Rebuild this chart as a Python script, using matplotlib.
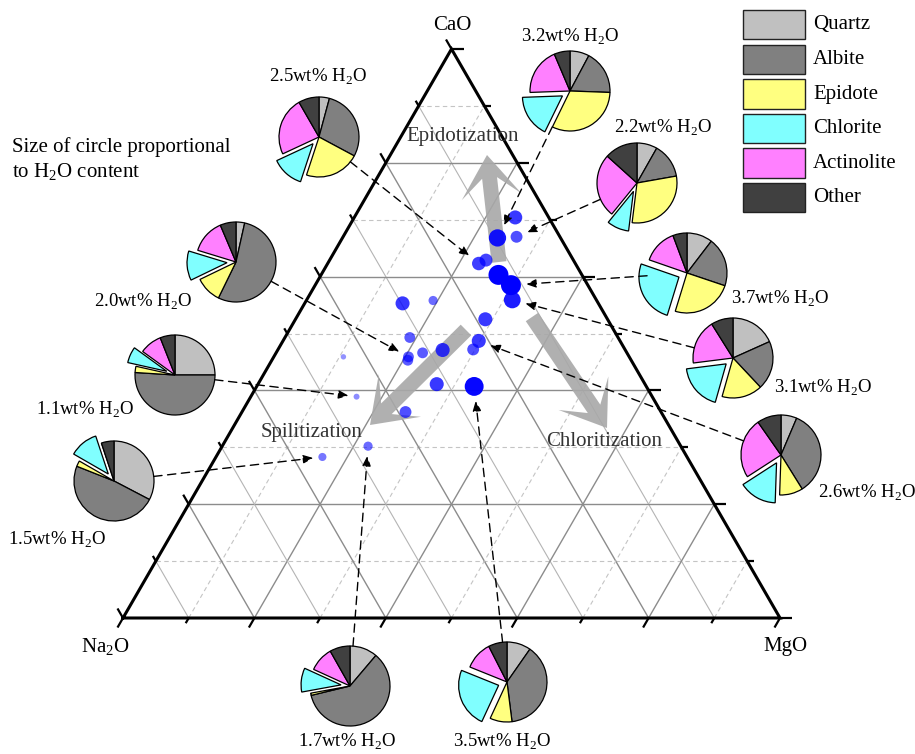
import numpy as np
import matplotlib.pyplot as plt
from matplotlib.patches import Polygon, Rectangle

plt.rcParams['font.family'] = ['Liberation Serif', 'DejaVu Serif']
plt.rcParams['mathtext.fontset'] = 'custom'
plt.rcParams['mathtext.rm'] = 'Liberation Serif'


# sample compositions (wt%) and water content
# -------------------------------------------------------------------------------------
cao  = [70.4, 67.0, 66.8, 62.9, 62.3, 60.3, 58.5, 55.9, 55.3, 55.8, 52.5, 49.3, 48.7,
        47.2, 46.6, 47.1, 45.9, 45.3, 45.9, 41.1, 40.7, 36.2, 38.9, 30.2, 28.3]
na2o = [5.2, 6.6, 9.6, 13.3, 14.6, 12.7, 11.7, 12.8, 29.8, 25.0, 18.5, 31.7, 21.5,
        23.1, 31.1, 27.8, 33.6, 34.0, 43.5, 31.7, 26.2, 39.0, 45.0, 47.5, 55.4]
mgo  = [24.5, 26.4, 23.6, 23.8, 23.0, 27.0, 29.8, 31.3, 14.9, 19.3, 28.9, 19.0, 29.8,
        29.7, 22.3, 25.1, 20.5, 20.7, 10.6, 27.2, 33.1, 24.9, 16.1, 22.2, 16.2]
h2o  = [2.6, 2.2, 3.2, 2.4, 2.5, 3.7, 3.7, 3.1, 2.6, 1.7, 2.6, 2.0, 2.6,
        2.2, 2.0, 2.6, 2.0, 2.0, 1.0, 2.6, 3.5, 2.2, 1.1, 1.7, 1.5]

# mineral proportions (%) of the pie samples
# -------------------------------------------------------------------------------------
minerals = ["Quartz", "Albite", "Epidote", "Chlorite", "Actinolite", "Other"]
pie_h2o    = [2.5, 3.2, 2.2, 3.7, 3.1, 2.6, 2.0, 1.1, 1.5, 1.7, 3.5]
quartz     = [4.2, 7.8, 8.2, 10.4, 18.3, 6.4, 3.5, 25.0, 32.7, 11.2, 9.7]
albite     = [28.6, 17.8, 14.0, 19.8, 19.7, 34.7, 53.8, 51.0, 48.4, 60.1, 38.3]
epidote    = [22.2, 31.7, 29.7, 24.6, 16.4, 9.4, 10.6, 2.5, 2.3, 0.9, 8.9]
chlorite   = [13.0, 17.2, 8.9, 25.6, 18.6, 15.3, 11.9, 6.5, 11.6, 9.7, 24.2]
actinolite = [23.6, 19.2, 25.8, 14.0, 18.1, 24.4, 13.9, 9.0, 0.0, 10.0, 11.4]
other      = [8.3, 6.4, 13.3, 5.7, 8.9, 9.7, 6.4, 6.0, 5.1, 8.2, 7.5]
pie_sample = [4, 2, 1, 6, 7, 12, 16, 22, 24, 23, 20]   # which point each pie belongs to


# layout (pixel positions in the 915x754 figure)
# -------------------------------------------------------------------------------------
SIDE, X0, Y0 = 657, 123, 618        # triangle side and Na2O corner in pixels
H = np.sqrt(3) / 2
colors = ['#c0c0c0', '#808080', '#ffff80', '#80ffff', '#ff80ff', '#404040']

pie_xy = [(319, 137), (570, 91), (637, 183), (687, 273), (733, 358), (781, 455),
          (236, 262), (175, 375), (114, 481), (350, 686), (507, 682)]
label_xy = [(318, 77), (570, 37), (663, 128), (780, 299), (823, 388), (867, 493),
            (143, 302), (85, 410), (57, 540), (347, 742), (502, 742)]
PIE_R = 40


def px(x, y):
    return ((x - X0) / SIDE, (Y0 - y) / SIDE)


def tern(c, m):
    return m / 100 + c / 200, c / 100 * H


fig = plt.figure(figsize=(9.15, 7.54), dpi=100)
ax = fig.add_axes([0, 0, 1, 1])

# grid
major = dict(color='#8c8c8c', lw=1.0, ls='-')
light = dict(color='#b4b4b4', lw=0.8, ls='-')
dash = dict(color='#c4c4c4', lw=0.8, ls=(0, (4, 3)))
for i in range(1, 10):
    f = i / 10
    even = i % 2 == 0
    ax.plot([f / 2, 1 - f / 2], [f * H, f * H], **(major if even else dash), zorder=1)
    ax.plot([f, f + (1 - f) / 2], [0, (1 - f) * H], **(major if even else dash), zorder=1)
    ax.plot([1 - f, (1 - f) / 2], [0, (1 - f) * H], **(major if even else light), zorder=1)

# triangle and ticks
ax.plot([0, 1, 0.5, 0], [0, 0, H, 0], color='k', lw=2.2, zorder=3,
        solid_joinstyle='miter')
for i in range(11):
    f = i / 10
    L = (11 if i % 2 == 0 else 6) / SIDE
    kw = dict(color='k', lw=1.6, zorder=3, solid_capstyle='butt')
    ax.plot([f / 2, f / 2 - 0.5 * L], [f * H, f * H + H * L], **kw)
    ax.plot([f, f - 0.5 * L], [0, -H * L], **kw)
    ax.plot([1 - f / 2, 1 - f / 2 + L * 1.1], [f * H, f * H], **kw)

ax.text(*px(452, 26), "CaO", ha='center', va='center', fontsize=15)
ax.text(*px(105, 647), "Na$_2$O", ha='center', va='center', fontsize=15)
ax.text(*px(785, 646), "MgO", ha='center', va='center', fontsize=15)


# big process arrows
def big_arrow(p0, p1, shaft=15, head_w=60, head_l=42):
    a = np.array(px(*p0))
    b = np.array(px(*p1))
    u = (b - a) / np.linalg.norm(b - a)
    v = np.array([-u[1], u[0]])
    s, hw, hl = shaft / SIDE / 2, head_w / SIDE / 2, head_l / SIDE
    pts = [a + v * s, b - u * hl * 0.55 + v * s, b - u * hl + v * hw,
           b - u * hl * 0.45 + v * hw * 0.45, b,
           b - u * hl * 0.45 - v * hw * 0.45, b - u * hl - v * hw,
           b - u * hl * 0.55 - v * s, a - v * s]
    ax.add_patch(Polygon(pts, closed=True, facecolor='#a8a8a8', edgecolor='none',
                         alpha=0.9, zorder=4))


big_arrow((499, 262), (487, 155))
big_arrow((466, 330), (370, 425))
big_arrow((532, 317), (607, 428))
ax.text(*px(463, 137), "Epidotization", ha='center', va='center', fontsize=15, color='#333333', zorder=6)
ax.text(*px(312, 433), "Spilitization", ha='center', va='center', fontsize=15, color='#333333', zorder=6)
ax.text(*px(604, 442), "Chloritization", ha='center', va='center', fontsize=15, color='#333333', zorder=6)

# sample points
pts = np.array([tern(c, m) for c, m in zip(cao, mgo)])
h = np.array(h2o)
r_px = 2.7 * h
alpha = np.clip(0.45 + (h - 1.1) * 0.22, 0.35, 1.0)
rgba = np.zeros((len(h), 4))
rgba[:, 2] = 1.0
rgba[:, 3] = alpha
ax.scatter(pts[:, 0], pts[:, 1], s=(2 * r_px * 0.72) ** 2, c=rgba, edgecolors='none', zorder=7)

# pies, labels and dashed arrows
fracs = np.array([quartz, albite, epidote, chlorite, actinolite, other]).T
for k in range(len(pie_h2o)):
    cx, cy = px(*pie_xy[k])
    ax.pie(fracs[k], colors=colors, startangle=90, counterclock=False,
           explode=[0, 0, 0, 9 / SIDE, 0, 0], center=(cx, cy), radius=PIE_R / SIDE,
           wedgeprops=dict(edgecolor='black', linewidth=0.9), frame=True)
    ax.text(*px(*label_xy[k]), f"{pie_h2o[k]:.1f}wt% H$_2$O", ha='center', va='center',
            fontsize=13.5)

    tgt = pts[pie_sample[k]]
    d = tgt - np.array([cx, cy])
    u = d / np.linalg.norm(d)
    start = np.array([cx, cy]) + u * PIE_R / SIDE
    tip = tgt - u * (r_px[pie_sample[k]] + 5) / SIDE
    ax.annotate("", xy=tip, xytext=start,
                arrowprops=dict(arrowstyle='-|>,head_length=0.6,head_width=0.25',
                                color='k', lw=1.0, ls=(0, (6, 4)),
                                shrinkA=0, shrinkB=0), zorder=8)

ax.text(*px(12, 147), "Size of circle proportional", ha='left', va='center', fontsize=15)
ax.text(*px(12, 172), "to H$_2$O content", ha='left', va='center', fontsize=15)

# legend
for i, (name, col) in enumerate(zip(minerals, colors)):
    top = 10 + 34.6 * i
    x, y = px(743, top + 29.3)
    ax.add_patch(Rectangle((x, y), 62 / SIDE, 29.3 / SIDE, facecolor=col,
                           edgecolor='#222222', lw=1.0, zorder=5))
    ax.text(*px(813, top + 15), name, ha='left', va='center', fontsize=15)

ax.set_xlim(-X0 / SIDE, (915 - X0) / SIDE)
ax.set_ylim((Y0 - 754) / SIDE, Y0 / SIDE)
ax.set_aspect('equal')
ax.axis('off')

fig.savefig("out.png", dpi=100)
